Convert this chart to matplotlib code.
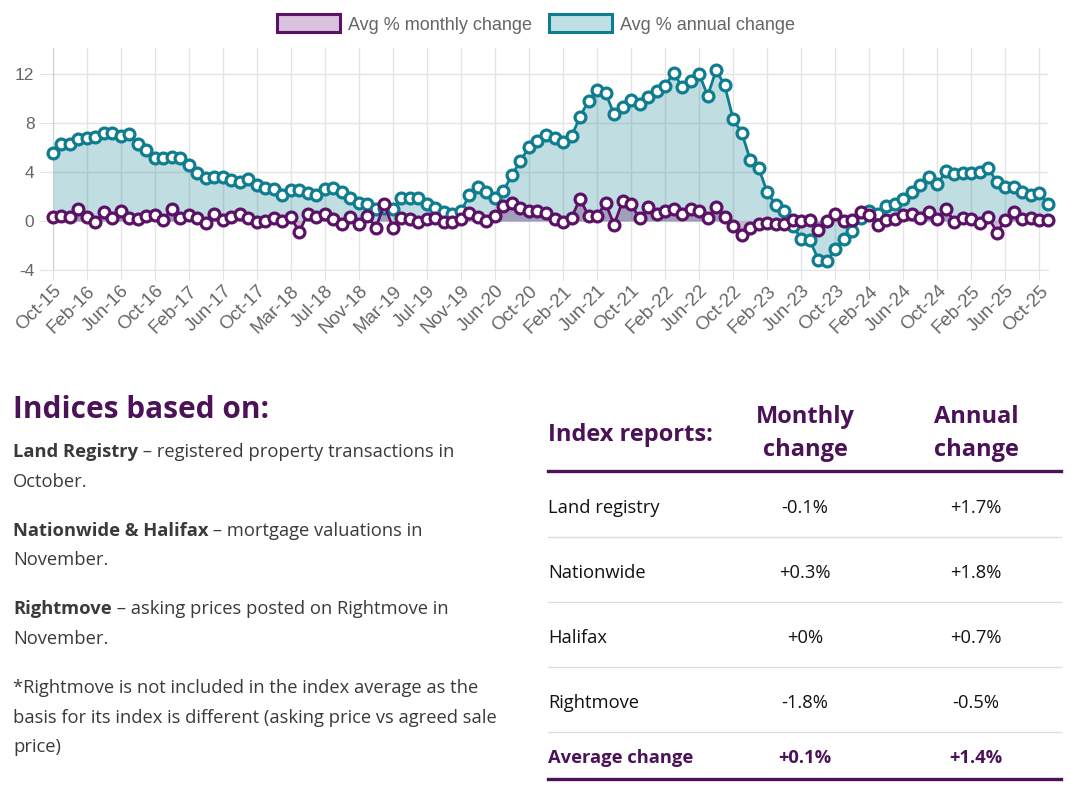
import matplotlib
matplotlib.use('Agg')
import matplotlib.pyplot as plt
from matplotlib.patches import Patch
from matplotlib.lines import Line2D

W, H = 1071, 796

# ---------------- data ----------------
MONTHS = ["Jan", "Feb", "Mar", "Apr", "May", "Jun",
          "Jul", "Aug", "Sep", "Oct", "Nov", "Dec"]
labels = (["Oct-15", "Nov-15", "Dec-15"]
          + [m + "-16" for m in MONTHS]
          + [m + "-17" for m in MONTHS]
          + ["Feb-18", "Mar-18", "Apr-18", "May-18", "Jun-18", "Jul-18",
             "Aug-18", "Sep-18", "Oct-18", "Nov-18", "Dec-18"]
          + [m + "-19" for m in MONTHS]
          + ["Jan-20", "Feb-20", "Jun-20", "Jul-20", "Aug-20", "Sep-20",
             "Oct-20", "Nov-20", "Dec-20"]
          + [m + "-21" for m in MONTHS]
          + [m + "-22" for m in MONTHS]
          + [m + "-23" for m in MONTHS]
          + [m + "-24" for m in MONTHS]
          + [m + "-25" for m in MONTHS[:11]])

annual = [5.5, 6.3, 6.25, 6.7, 6.8, 6.85, 7.2, 7.2, 6.9, 7.1,
          6.3, 5.8, 5.1, 5.1, 5.2, 5.1, 4.6, 3.9, 3.5, 3.6,
          3.6, 3.3, 3.2, 3.4, 2.9, 2.7, 2.6, 2.1, 2.5, 2.5,
          2.3, 2.1, 2.6, 2.7, 2.35, 1.9, 1.5, 1.35, 0.95, 1.05,
          0.95, 1.9, 1.9, 1.9, 1.4, 1.05, 0.7, 0.6, 0.8, 2.1,
          2.8, 2.4, 1.9, 2.45, 3.75, 4.9, 6.0, 6.55, 7.0, 6.75,
          6.45, 6.9, 8.5, 9.8, 10.7, 10.45, 8.7, 9.3, 9.9, 9.55,
          10.1, 10.6, 11.0, 12.1, 10.9, 11.4, 12.0, 10.2, 12.3, 11.05,
          8.3, 7.2, 5.0, 4.3, 2.35, 1.3, 0.85, -0.4, -1.45, -1.55,
          -3.15, -3.3, -2.3, -1.5, -0.8, 0.2, 0.85, 0.55, 1.25, 1.35,
          1.8, 2.4, 2.95, 3.6, 3.0, 4.05, 3.8, 3.9, 3.9, 3.95,
          4.3, 3.15, 2.75, 2.8, 2.35, 2.15, 2.3, 1.4]

monthly = [0.3, 0.4, 0.35, 1.0, 0.35, -0.1, 0.7, 0.25, 0.8, 0.2,
           0.15, 0.4, 0.5, 0.05, 1.0, 0.2, 0.5, 0.2, -0.2, 0.6,
           0.1, 0.35, 0.6, 0.2, -0.1, 0.0, 0.2, 0.0, 0.3, -0.9,
           0.6, 0.35, 0.6, 0.15, -0.25, 0.3, -0.25, 0.4, -0.55, 1.35,
           -0.55, 0.27, 0.15, -0.1, 0.15, 0.27, -0.05, -0.05, 0.15, 0.65,
           0.3, 0.0, 0.4, 1.25, 1.45, 1.05, 0.85, 0.85, 0.65, 0.15,
           -0.1, 0.27, 1.8, 0.4, 0.4, 1.45, -0.3, 1.6, 1.4, 0.2,
           1.1, 0.55, 0.85, 0.95, 0.57, 0.95, 0.85, 0.25, 1.15, 0.3,
           -0.45, -1.15, -0.6, -0.25, -0.15, -0.25, -0.25, 0.1, 0.0, 0.1,
           -0.75, 0.0, 0.55, 0.0, 0.1, 0.7, 0.5, -0.3, 0.1, 0.15,
           0.45, 0.55, 0.2, 0.75, 0.15, 0.95, -0.05, 0.2, 0.15, -0.2,
           0.3, -0.95, 0.05, 0.75, 0.15, 0.27, 0.05, 0.1]

series_names = ["Avg % monthly change", "Avg % annual change"]
y_ticks = [-4, 0, 4, 8, 12]

table_header = ["Index reports:", "Monthly\nchange", "Annual\nchange"]
table_rows = ["Land registry", "Nationwide", "Halifax", "Rightmove"]
table_monthly = ["-0.1%", "+0.3%", "+0%", "-1.8%"]
table_annual = ["+1.7%", "+1.8%", "+0.7%", "-0.5%"]
avg_row = ["Average change", "+0.1%", "+1.4%"]

notes = [
    [("Land Registry", True), (" \u2013 registered property transactions in", False)],
    [("October.", False)],
    None,
    [("Nationwide & Halifax", True), (" \u2013 mortgage valuations in", False)],
    [("November.", False)],
    None,
    [("Rightmove", True), (" \u2013 asking prices posted on Rightmove in", False)],
    [("November.", False)],
    None,
    [("*Rightmove is not included in the index average as the", False)],
    [("basis for its index is different (asking price vs agreed sale", False)],
    [("price)", False)],
]

# ---------------- style ----------------
PURPLE = "#5b1166"
TEAL = "#0e7d8f"
DARKPURPLE = "#4b1258"
GRID = "#e4e4e4"
TICKC = "#666666"
BODY = "#3a3a3a"

fig = plt.figure(figsize=(W / 100, H / 100), dpi=100)
fig.patch.set_facecolor("white")


def fx(px):
    return px / W


def fy(py):
    return 1 - py / H


# ---------------- chart ----------------
ax = fig.add_axes([fx(52.5), fy(270), (1048 - 52.5) / W, (270 - 48) / H])
x = list(range(len(labels)))

ax.fill_between(x, annual, 0, color=TEAL, alpha=0.26, lw=0, zorder=1)
ax.fill_between(x, monthly, 0, color=PURPLE, alpha=0.3, lw=0, zorder=2)
ax.plot(x, annual, color=TEAL, lw=2.0, marker="o", ms=7.8, mfc="white",
        mec=TEAL, mew=2.3, zorder=3, clip_on=False)
ax.plot(x, monthly, color=PURPLE, lw=2.0, marker="o", ms=7.8, mfc="white",
        mec=PURPLE, mew=2.3, zorder=4, clip_on=False)

ax.set_xlim(0, len(labels) - 1)
ax.set_ylim(-4, 14.1)
ax.set_yticks(y_ticks)
ax.set_yticklabels([str(v) for v in y_ticks])
tick_idx = list(range(0, len(labels), 4))
ax.set_xticks(tick_idx)
ax.set_xticklabels([labels[i] for i in tick_idx], rotation=45, ha="right",
                   rotation_mode="anchor")
ax.grid(True, color=GRID, lw=1.0, zorder=0)
ax.set_axisbelow(True)
for s in ["top", "right"]:
    ax.spines[s].set_visible(False)
ax.spines["left"].set_color("#cfcfcf")
ax.spines["bottom"].set_color(GRID)
ax.tick_params(axis="y", length=10, color=GRID, labelcolor=TICKC,
               labelsize=12.5, pad=3)
ax.tick_params(axis="x", length=7, color=GRID, labelcolor=TICKC,
               labelsize=13.5, pad=2)
for t in ax.get_xticklabels() + ax.get_yticklabels():
    t.set_fontfamily("Liberation Sans")

handles = [Patch(facecolor="#d9c2dd", edgecolor=PURPLE, lw=2.2),
           Patch(facecolor="#bfdfe4", edgecolor=TEAL, lw=2.2)]
leg = fig.legend(handles, series_names, loc="center", ncol=2,
                 bbox_to_anchor=(fx(536), fy(24)), frameon=False,
                 handlelength=3.5, handleheight=1.15, handletextpad=0.42,
                 columnspacing=0.95,
                 prop={"family": "Liberation Sans", "size": 13})
for t in leg.get_texts():
    t.set_color(TICKC)

# ---------------- left notes ----------------
fig.text(fx(13), fy(407), "Indices based on:", fontsize=21.4,
         fontweight="bold", family="Open Sans", color=DARKPURPLE,
         va="center_baseline", ha="left")

renderer = fig.canvas.get_renderer()
line_y = 450
for line in notes:
    if line is None:
        line_y += 19.5
        continue
    cur_x = 13
    for txt, bold in line:
        t = fig.text(fx(cur_x), fy(line_y), txt, fontsize=13.2,
                     family="Open Sans",
                     fontweight="bold" if bold else "normal",
                     color=BODY, va="center_baseline", ha="left")
        bb = t.get_window_extent(renderer=renderer)
        cur_x += bb.width
    line_y += 29.6

# ---------------- table ----------------
col_m, col_a = 805, 976
fig.text(fx(548), fy(432), table_header[0], fontsize=17, fontweight="bold",
         family="Open Sans", color=DARKPURPLE, va="center_baseline", ha="left")
for cx, txt in [(col_m, table_header[1]), (col_a, table_header[2])]:
    a, b = txt.split("\n")
    fig.text(fx(cx), fy(414), a, fontsize=17, fontweight="bold",
             family="Open Sans", color=DARKPURPLE, va="center_baseline",
             ha="center")
    fig.text(fx(cx), fy(447), b, fontsize=17, fontweight="bold",
             family="Open Sans", color=DARKPURPLE, va="center_baseline",
             ha="center")

fig.add_artist(Line2D([fx(548), fx(1061)], [fy(471), fy(471)],
                      color=DARKPURPLE, lw=2.4))
row_y = [506, 571, 636, 701]
sep_y = [537, 602, 667, 732]
for name, mv, av, ry in zip(table_rows, table_monthly, table_annual, row_y):
    fig.text(fx(548), fy(ry), name, fontsize=13.2, family="Open Sans",
             color="#111111", va="center_baseline", ha="left")
    fig.text(fx(col_m), fy(ry), mv, fontsize=13.2, family="Open Sans",
             color="#111111", va="center_baseline", ha="center")
    fig.text(fx(col_a), fy(ry), av, fontsize=13.2, family="Open Sans",
             color="#111111", va="center_baseline", ha="center")
for sy in sep_y:
    fig.add_artist(Line2D([fx(548), fx(1061)], [fy(sy), fy(sy)],
                          color="#dddddd", lw=1.0))
fig.text(fx(548), fy(756), avg_row[0], fontsize=13.2, fontweight="bold",
         family="Open Sans", color=DARKPURPLE, va="center_baseline", ha="left")
fig.text(fx(col_m), fy(756), avg_row[1], fontsize=13.2, fontweight="bold",
         family="Open Sans", color=DARKPURPLE, va="center_baseline",
         ha="center")
fig.text(fx(col_a), fy(756), avg_row[2], fontsize=13.2, fontweight="bold",
         family="Open Sans", color=DARKPURPLE, va="center_baseline",
         ha="center")
fig.add_artist(Line2D([fx(548), fx(1061)], [fy(779), fy(779)],
                      color=DARKPURPLE, lw=2.4))

fig.savefig("out.png", dpi=100, facecolor="white")
